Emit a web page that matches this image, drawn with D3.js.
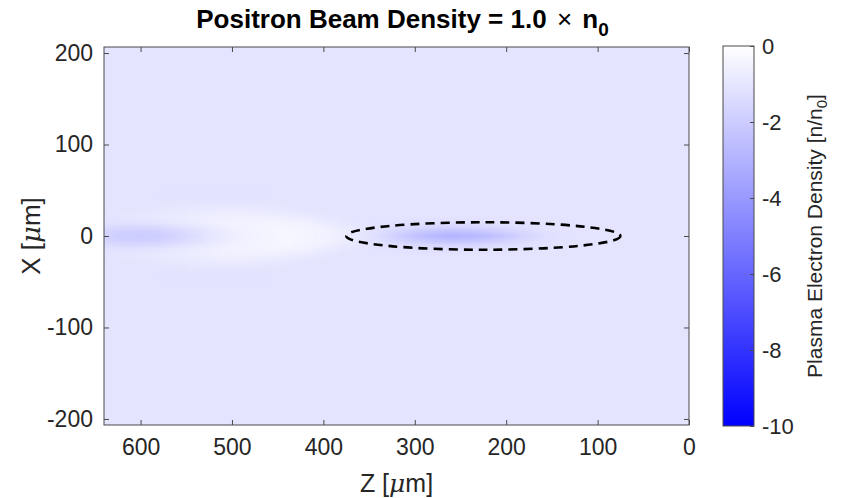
<!DOCTYPE html>
<html>
<head>
<meta charset="utf-8">
<script src="https://cdn.jsdelivr.net/npm/d3@7"></script>
<style>
  html, body { margin: 0; padding: 0; background: #fff; }
  svg { display: block; font-family: "Liberation Sans", Arial, Helvetica, sans-serif; }
</style>
</head>
<body>
<svg id="chart" width="846" height="498"></svg>
<script>
const zCols = [640, 620, 600, 580, 560, 540, 520, 500, 480, 460, 440, 420, 400, 380, 360, 340, 320, 300, 280, 260, 240, 220, 200, 180, 160, 140, 120, 100, 80, 0];
const background = -1.05;
// density [n/n0] along rows at |X| offsets
const onAxis = [-1.75, -1.95, -2.0, -1.9, -1.65, -1.3, -0.95, -0.7, -0.5, -0.4, -0.35, -0.4, -0.5, -0.7, -0.95, -1.35, -1.9, -2.4, -2.8, -3.0, -2.9, -2.6, -2.15, -1.7, -1.32, -1.12, -1.07, -1.05, -1.05, -1.05];
const at5um = [-1.65, -1.82, -1.88, -1.78, -1.52, -1.2, -0.88, -0.65, -0.5, -0.4, -0.35, -0.4, -0.5, -0.7, -0.95, -1.28, -1.65, -2.0, -2.3, -2.42, -2.32, -2.1, -1.75, -1.45, -1.2, -1.1, -1.06, -1.05, -1.05, -1.05];
const at10um = [-1.38, -1.48, -1.52, -1.42, -1.2, -0.96, -0.75, -0.56, -0.46, -0.4, -0.4, -0.45, -0.6, -0.8, -1.0, -1.14, -1.28, -1.45, -1.58, -1.64, -1.6, -1.48, -1.33, -1.19, -1.1, -1.07, -1.05, -1.05, -1.05, -1.05];
const at15um = [-1.15, -1.15, -1.1, -1.0, -0.9, -0.75, -0.62, -0.52, -0.46, -0.45, -0.5, -0.6, -0.78, -0.95, -1.05, -1.1, -1.14, -1.18, -1.22, -1.23, -1.2, -1.16, -1.11, -1.08, -1.05, -1.05, -1.05, -1.05, -1.05, -1.05];
const at22um = [-1.05, -1.0, -0.95, -0.9, -0.82, -0.72, -0.66, -0.62, -0.62, -0.66, -0.75, -0.86, -1.0, -1.05, -1.05, -1.05, -1.05, -1.05, -1.05, -1.05, -1.05, -1.05, -1.05, -1.05, -1.05, -1.05, -1.05, -1.05, -1.05, -1.05];
const at30um = [-1.05, -1.05, -1.05, -1.0, -0.95, -0.9, -0.86, -0.85, -0.88, -0.94, -1.0, -1.05, -1.05, -1.05, -1.05, -1.05, -1.05, -1.05, -1.05, -1.05, -1.05, -1.05, -1.05, -1.05, -1.05, -1.05, -1.05, -1.05, -1.05, -1.05];
const at40um = [-1.05, -1.05, -1.05, -1.08, -1.1, -1.1, -1.1, -1.1, -1.1, -1.08, -1.06, -1.05, -1.05, -1.05, -1.05, -1.05, -1.05, -1.05, -1.05, -1.05, -1.05, -1.05, -1.05, -1.05, -1.05, -1.05, -1.05, -1.05, -1.05, -1.05];
const rowOffsets = [0, 5, 10, 15, 22, 30, 40, 55];
const rowValues = [onAxis, at5um, at10um, at15um, at22um, at30um, at40um, zCols.map(() => background)];

// beam ellipse (um)
const beamCenterZ = 225;
const beamHalfLengthZ = 150;
const beamHalfWidthX = 15;

const zTicks = [600, 500, 400, 300, 200, 100, 0];
const xTicks = [-200, -100, 0, 100, 200];
const colorTicks = [-10, -8, -6, -4, -2, 0];

const svg = d3.select("#chart");
const plot = { left: 104, right: 689, top: 47, bottom: 425 };
const axisColor = "#4a4a4a";
const textColor = "#262626";

const x = d3.scaleLinear().domain([640, 0]).range([plot.left, plot.right]);
const y = d3.scaleLinear().domain([-206.6, 206.6]).range([plot.bottom, plot.top]);
const color = d3.scaleLinear().domain([-10, 0]).range(["#0000ff", "#ffffff"]);

const defs = svg.append("defs");
defs.append("clipPath").attr("id", "plotClip")
  .append("rect")
  .attr("x", plot.left).attr("y", plot.top)
  .attr("width", plot.right - plot.left).attr("height", plot.bottom - plot.top);

// per-row interpolators along z
const rowInterp = rowValues.map((vals) => d3.scaleLinear().domain(zCols).range(vals).clamp(true));

const g = svg.append("g").attr("clip-path", "url(#plotClip)");
g.append("rect")
  .attr("x", plot.left).attr("y", plot.top)
  .attr("width", plot.right - plot.left).attr("height", plot.bottom - plot.top)
  .attr("fill", color(background));

const span = rowOffsets[rowOffsets.length - 1];
// top (+span) to bottom (-span)
const xs = [...rowOffsets.slice().reverse(), ...rowOffsets.slice(1).map((d) => -d)];
const step = 2;
const columns = d3.range(0, 640, step);

columns.forEach((z, i) => {
  const zc = z + step / 2;
  const id = `col${i}`;
  const grad = defs.append("linearGradient")
    .attr("id", id)
    .attr("gradientUnits", "userSpaceOnUse")
    .attr("x1", 0).attr("x2", 0)
    .attr("y1", y(span)).attr("y2", y(-span));
  xs.forEach((xv) => {
    const r = rowOffsets.indexOf(Math.abs(xv));
    grad.append("stop")
      .attr("offset", (span - xv) / (2 * span))
      .attr("stop-color", color(rowInterp[r](zc)));
  });
  g.append("rect")
    .attr("x", x(z + step))
    .attr("y", y(span))
    .attr("width", x(z) - x(z + step) + 0.6)
    .attr("height", y(-span) - y(span))
    .attr("fill", `url(#${id})`);
});

// beam ellipse
g.append("ellipse")
  .attr("cx", x(beamCenterZ))
  .attr("cy", y(0))
  .attr("rx", x(0) - x(beamHalfLengthZ))
  .attr("ry", y(0) - y(beamHalfWidthX))
  .attr("fill", "none")
  .attr("stroke", "#000")
  .attr("stroke-width", 2.6)
  .attr("stroke-dasharray", "9,6");

// axes (ticks inward, box on)
function styleAxis(size) {
  return (sel) => {
    sel.select(".domain").remove();
    sel.selectAll(".tick line").attr("stroke", axisColor);
    sel.selectAll(".tick text")
      .attr("fill", textColor)
      .style("font-size", size);
  };
}
const plain = (d) => String(d);

svg.append("g")
  .attr("transform", `translate(0,${plot.bottom})`)
  .call(d3.axisBottom(x).tickValues(zTicks).tickSize(-5).tickFormat(plain).tickPadding(14))
  .call(styleAxis("23px"));
svg.append("g")
  .attr("transform", `translate(0,${plot.top})`)
  .call(d3.axisTop(x).tickValues(zTicks).tickSize(-5).tickFormat(""))
  .call(styleAxis("23px"));
svg.append("g")
  .attr("transform", `translate(${plot.left},0)`)
  .call(d3.axisLeft(y).tickValues(xTicks).tickSize(-5).tickFormat(plain).tickPadding(11))
  .call(styleAxis("23px"));
svg.append("g")
  .attr("transform", `translate(${plot.right},0)`)
  .call(d3.axisRight(y).tickValues(xTicks).tickSize(-5).tickFormat(""))
  .call(styleAxis("23px"));

svg.append("rect")
  .attr("x", plot.left).attr("y", plot.top)
  .attr("width", plot.right - plot.left).attr("height", plot.bottom - plot.top)
  .attr("fill", "none")
  .attr("stroke", axisColor)
  .attr("stroke-width", 1);

// axis labels
const zLabel = svg.append("text")
  .attr("x", (plot.left + plot.right) / 2)
  .attr("y", 492)
  .attr("text-anchor", "middle")
  .style("font-size", "25px")
  .attr("fill", textColor);
zLabel.append("tspan").text("Z [");
zLabel.append("tspan").style("font-style", "italic").style("font-family", "'DejaVu Serif', serif").text("\u03bc");
zLabel.append("tspan").text("m]");

const xLabel = svg.append("text")
  .attr("transform", `translate(40,${(plot.top + plot.bottom) / 2}) rotate(-90)`)
  .attr("text-anchor", "middle")
  .style("font-size", "26px")
  .attr("fill", textColor);
xLabel.append("tspan").text("X [");
xLabel.append("tspan").style("font-style", "italic").style("font-family", "'DejaVu Serif', serif").text("\u03bc");
xLabel.append("tspan").text("m]");

// title
const title = svg.append("text")
  .attr("x", (plot.left + plot.right) / 2 + 6)
  .attr("y", 28)
  .attr("text-anchor", "middle")
  .style("font-size", "26px")
  .style("font-weight", "bold")
  .attr("fill", "#000");
title.append("tspan").text("Positron Beam Density = 1.0 ");
title.append("tspan").attr("dx", 3).style("font-weight", "normal").text("\u00d7");
title.append("tspan").attr("dx", 3).text(" n");
title.append("tspan").attr("dy", 8).style("font-size", "19px").text("0");

// colorbar
const cb = { left: 723, right: 754, top: 46, bottom: 426 };
const cy = d3.scaleLinear().domain([-10, 0]).range([cb.bottom, cb.top]);
const cbGrad = defs.append("linearGradient")
  .attr("id", "cbGrad")
  .attr("x1", 0).attr("x2", 0).attr("y1", 1).attr("y2", 0);
cbGrad.append("stop").attr("offset", 0).attr("stop-color", color(-10));
cbGrad.append("stop").attr("offset", 1).attr("stop-color", color(0));

svg.append("rect")
  .attr("x", cb.left).attr("y", cb.top)
  .attr("width", cb.right - cb.left).attr("height", cb.bottom - cb.top)
  .attr("fill", "url(#cbGrad)");

svg.append("g")
  .attr("transform", `translate(${cb.right},0)`)
  .call(d3.axisRight(cy).tickValues(colorTicks).tickSize(-4).tickFormat(plain).tickPadding(8))
  .call(styleAxis("22px"));

svg.append("rect")
  .attr("x", cb.left).attr("y", cb.top)
  .attr("width", cb.right - cb.left).attr("height", cb.bottom - cb.top)
  .attr("fill", "none")
  .attr("stroke", axisColor)
  .attr("stroke-width", 1);

const cLabel = svg.append("text")
  .attr("transform", `translate(822,${(cb.top + cb.bottom) / 2}) rotate(-90)`)
  .attr("text-anchor", "middle")
  .style("font-size", "21px")
  .attr("fill", textColor);
cLabel.append("tspan").text("Plasma Electron Density [n/n");
cLabel.append("tspan").attr("dy", 5).style("font-size", "15px").text("0");
cLabel.append("tspan").attr("dy", -5).text("]");
</script>
</body>
</html>
